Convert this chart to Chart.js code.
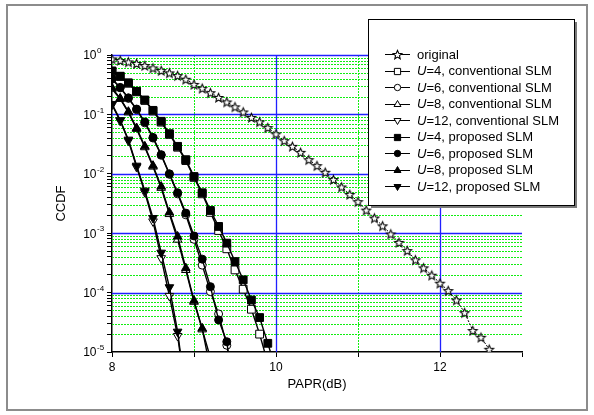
<!DOCTYPE html>
<html>
<head>
<meta charset="utf-8">
<script src="https://cdn.jsdelivr.net/npm/chart.js@4.4.0/dist/chart.umd.min.js"></script>
<style>
  html, body { margin: 0; padding: 0; background: #fff; }
  canvas { display: block; }
</style>
</head>
<body>
<canvas id="ccdfChart" width="594" height="415"></canvas>
<script>
// PAPR values (dB), one point every 0.1 dB starting at 8 dB
const paprDb = [8.0, 8.1, 8.2, 8.3, 8.4, 8.5, 8.6, 8.7, 8.8, 8.9,
                9.0, 9.1, 9.2, 9.3, 9.4, 9.5, 9.6, 9.7, 9.8, 9.9,
                10.0, 10.1, 10.2, 10.3, 10.4, 10.5, 10.6, 10.7, 10.8, 10.9,
                11.0, 11.1, 11.2, 11.3, 11.4, 11.5, 11.6, 11.7, 11.8, 11.9,
                12.0, 12.1, 12.2, 12.3, 12.4, 12.5, 12.6];

// CCDF values
const original = [0.86, 0.81, 0.765, 0.72, 0.665, 0.605, 0.548, 0.50, 0.45, 0.39,
                  0.32, 0.275, 0.232, 0.193, 0.162, 0.134, 0.110, 0.089, 0.075, 0.060,
                  0.047, 0.0361, 0.029, 0.023, 0.0173, 0.0137, 0.0106, 0.0080, 0.0060, 0.0045,
                  0.0034, 0.00245, 0.0018, 0.00133, 0.00097, 0.0007, 0.00051, 0.000356, 0.000261, 0.000196,
                  0.000144, 0.000108, 7.5e-5, 4.6e-5, 2.3e-5, 1.77e-5, 1.11e-5];
const convU4 = [0.53, 0.435, 0.335, 0.24, 0.172, 0.114, 0.074, 0.046, 0.028, 0.0167,
                0.0087, 0.0046, 0.00224, 0.00111, 0.000546, 0.000241, 0.000114, 5.25e-5, 2.0e-5, 6.5e-6];
const convU6 = [0.39, 0.28, 0.186, 0.12, 0.072, 0.040, 0.0205, 0.0098, 0.0046, 0.00204,
                0.00079, 0.00029, 0.000104, 4.37e-5, 1.3e-5, 2e-6];
const convU8 = [0.27, 0.182, 0.108, 0.057, 0.028, 0.0132, 0.0058, 0.0021, 0.00078, 0.00024,
                7e-5, 2.4e-5, 8e-6];
const convU12 = [0.145, 0.078, 0.036, 0.013, 0.0049, 0.00158, 0.00038, 8.8e-5, 1.86e-5, 2e-6];
const propU4 = [0.54, 0.44, 0.34, 0.245, 0.175, 0.117, 0.0766, 0.0474, 0.029, 0.0173,
                0.009, 0.0048, 0.00241, 0.0013, 0.00068, 0.000333, 0.000164, 7.5e-5, 3.8e-5, 1.4e-5, 5e-6];
const propU6 = [0.40, 0.285, 0.19, 0.123, 0.0745, 0.041, 0.021, 0.0100, 0.0048, 0.00218,
                0.0009, 0.000366, 0.000126, 3.47e-5, 1.49e-5, 1.5e-6];
const propU8 = [0.28, 0.186, 0.111, 0.059, 0.029, 0.0137, 0.0061, 0.00224, 0.00088, 0.000258,
                7.3e-5, 2.5e-5, 5e-6];
const propU12 = [0.15, 0.08, 0.0376, 0.0137, 0.0052, 0.0018, 0.00047, 0.000123, 2.2e-5, 2e-6];

// axis ticks
const xTickValues = [8, 9, 10, 11, 12, 13];
const xTickLabels = ['8', '', '10', '', '12', ''];
const yDecadeExps = [0, -1, -2, -3, -4, -5];
const yTickValues = [];
yDecadeExps.forEach(e => {
  for (let m = 1; m <= 9; m++) {
    if (e === 0 && m > 1) break;
    yTickValues.push(m * Math.pow(10, e));
  }
});

const FONT = '"Liberation Sans", Arial, sans-serif';

// outline star used for the "original" curve
function makeStar(r) {
  const c = document.createElement('canvas');
  const s = Math.ceil(r * 2 + 3);
  c.width = s; c.height = s;
  const g = c.getContext('2d');
  g.translate(s / 2, s / 2 + 0.5);
  g.beginPath();
  for (let i = 0; i < 10; i++) {
    const rad = i % 2 === 0 ? r : r * 0.45;
    const a = -Math.PI / 2 + i * Math.PI / 5;
    g.lineTo(rad * Math.cos(a), rad * Math.sin(a));
  }
  g.closePath();
  g.fillStyle = '#fff';
  g.fill();
  g.strokeStyle = '#000';
  g.lineWidth = 1.1;
  g.stroke();
  return c;
}
const starImg = makeStar(4.6);

function series(label, values, style, filled, extra) {
  return Object.assign({
    label: label,
    data: values.map((v, i) => ({ x: paprDb[i], y: v })),
    borderColor: '#000',
    borderWidth: 1.4,
    pointStyle: style,
    pointRadius: 4,
    pointBorderWidth: 1,
    pointBorderColor: '#000',
    pointBackgroundColor: filled ? '#000' : '#fff',
    tension: 0,
    fill: false,
    order: filled ? 0 : 1
  }, extra || {});
}

const datasets = [
  series('original', original, starImg, false, { borderWidth: 1, borderDash: [2, 1.5], order: 2 }),
  series('=4, conventional SLM', convU4, 'rect', false, { pointRadius: 5.5 }),
  series('=6, conventional SLM', convU6, 'circle', false, { pointRadius: 4 }),
  series('=8, conventional SLM', convU8, 'triangle', false, { pointRadius: 5 }),
  series('=12, conventional SLM', convU12, 'triangle', false, { pointRadius: 5, pointRotation: 180 }),
  series('=4, proposed SLM', propU4, 'rect', true, { pointRadius: 5.5 }),
  series('=6, proposed SLM', propU6, 'circle', true, { pointRadius: 4 }),
  series('=8, proposed SLM', propU8, 'triangle', true, { pointRadius: 5 }),
  series('=12, proposed SLM', propU12, 'triangle', true, { pointRadius: 5, pointRotation: 180 })
];

// frame, grid lines, y labels with exponents, legend box
const decorPlugin = {
  id: 'decor',
  beforeDraw(chart) {
    const ctx = chart.ctx;
    ctx.save();
    ctx.fillStyle = '#fff';
    ctx.fillRect(0, 0, chart.width, chart.height);
    ctx.strokeStyle = '#8c8c8c';
    ctx.lineWidth = 2;
    ctx.strokeRect(7, 5, 580, 405);
    ctx.restore();
  },
  beforeDatasetsDraw(chart) {
    const ctx = chart.ctx;
    const a = chart.chartArea;
    const xs = chart.scales.x, ys = chart.scales.y;
    ctx.save();
    ctx.lineWidth = 1;
    // minor (dotted green)
    ctx.strokeStyle = '#11ee11';
    ctx.setLineDash([2, 1]);
    yTickValues.forEach(v => {
      if (Math.abs(Math.log10(v) - Math.round(Math.log10(v))) < 1e-9) return;
      const y = Math.round(ys.getPixelForValue(v)) + 0.5;
      ctx.beginPath(); ctx.moveTo(a.left, y); ctx.lineTo(a.right, y); ctx.stroke();
    });
    xTickValues.forEach(v => {
      if (v % 2 === 0 || v === 13) return;
      const x = Math.round(xs.getPixelForValue(v)) + 0.5;
      ctx.beginPath(); ctx.moveTo(x, a.top); ctx.lineTo(x, a.bottom); ctx.stroke();
    });
    // major (solid blue)
    ctx.setLineDash([]);
    ctx.strokeStyle = '#2020ff';
    ctx.lineWidth = 1.3;
    yDecadeExps.forEach(e => {
      if (e === -5) return;
      const y = Math.round(ys.getPixelForValue(Math.pow(10, e))) + 0.5;
      ctx.beginPath(); ctx.moveTo(a.left, y); ctx.lineTo(a.right, y); ctx.stroke();
    });
    xTickValues.forEach(v => {
      if (v % 2 !== 0 || v === 8) return;
      const x = Math.round(xs.getPixelForValue(v)) + 0.5;
      ctx.beginPath(); ctx.moveTo(x, a.top); ctx.lineTo(x, a.bottom); ctx.stroke();
    });
    ctx.restore();
  },
  afterDraw(chart) {
    const ctx = chart.ctx;
    const ys = chart.scales.y;
    ctx.save();
    ctx.fillStyle = '#000';
    ctx.textBaseline = 'middle';
    // y tick labels 10^e
    yDecadeExps.forEach(e => {
      const y = ys.getPixelForValue(Math.pow(10, e));
      ctx.font = '12px ' + FONT;
      ctx.textAlign = 'right';
      ctx.fillText('10', 96.5, y + 1);
      ctx.font = '8px ' + FONT;
      ctx.textAlign = 'left';
      ctx.fillText(String(e), 97, y - 4);
    });

    // legend
    const bx = 368, by = 19, bw = 206, bh = 186;
    ctx.fillStyle = '#7a7a7a';
    ctx.fillRect(bx + 3, by + 3, bw, bh);
    ctx.fillStyle = '#fff';
    ctx.fillRect(bx, by, bw, bh);
    ctx.strokeStyle = '#000';
    ctx.lineWidth = 1;
    ctx.strokeRect(bx + 0.5, by + 0.5, bw, bh);

    const help = Chart.helpers;
    chart.data.datasets.forEach((ds, i) => {
      const y = 54 + i * 16.55;
      ctx.strokeStyle = '#000';
      ctx.lineWidth = 1;
      ctx.setLineDash([]);
      ctx.beginPath();
      ctx.moveTo(385, Math.round(y) + 0.5);
      ctx.lineTo(410, Math.round(y) + 0.5);
      ctx.stroke();
      ctx.fillStyle = ds.pointBackgroundColor;
      ctx.strokeStyle = '#000';
      help.drawPoint(ctx, {
        pointStyle: ds.pointStyle,
        rotation: ds.pointRotation || 0,
        radius: ds.pointRadius * 0.8,
        borderWidth: 1
      }, 397.5, Math.round(y) + 0.5);

      ctx.fillStyle = '#000';
      ctx.textAlign = 'left';
      ctx.textBaseline = 'middle';
      let tx = 417;
      if (i > 0) {
        ctx.font = 'italic 13px ' + FONT;
        ctx.fillText('U', tx, y + 1);
        tx += ctx.measureText('U').width;
      }
      ctx.font = '13px ' + FONT;
      ctx.fillText(ds.label, tx, y + 1);
    });
    ctx.restore();
  }
};

const ctx = document.getElementById('ccdfChart').getContext('2d');
const ccdfChart = new Chart(ctx, {
  type: 'line',
  data: { datasets: datasets },
  options: {
    responsive: false,
    animation: false,
    devicePixelRatio: 1,
    layout: { padding: { left: 0, top: 55, right: 72, bottom: 23 } },
    plugins: {
      legend: { display: false },
      tooltip: { enabled: false }
    },
    scales: {
      x: {
        type: 'linear',
        min: 8,
        max: 13,
        afterBuildTicks: s => { s.ticks = xTickValues.map(v => ({ value: v })); },
        afterFit: s => { s.height = 40; },
        ticks: {
          autoSkip: false,
          maxRotation: 0,
          padding: 3,
          color: '#000',
          font: { size: 12, family: FONT },
          callback: (v, i) => xTickLabels[i]
        },
        grid: { drawOnChartArea: false, drawTicks: true, tickLength: 5, color: '#000' },
        border: { color: '#000', width: 1.5 },
        title: {
          display: true,
          text: 'PAPR(dB)',
          color: '#000',
          font: { size: 13, family: FONT },
          padding: 0
        }
      },
      y: {
        type: 'logarithmic',
        min: 1e-5,
        max: 1,
        afterBuildTicks: s => { s.ticks = yTickValues.map(v => ({ value: v })); },
        afterFit: s => { s.width = 112; },
        ticks: { display: false },
        grid: { drawOnChartArea: false, drawTicks: true, tickLength: 5, color: '#000' },
        border: { color: '#000', width: 1.5 },
        title: {
          display: true,
          text: 'CCDF',
          color: '#000',
          font: { size: 13, family: FONT },
          padding: { top: 54 }
        }
      }
    }
  },
  plugins: [decorPlugin]
});
</script>
</body>
</html>
